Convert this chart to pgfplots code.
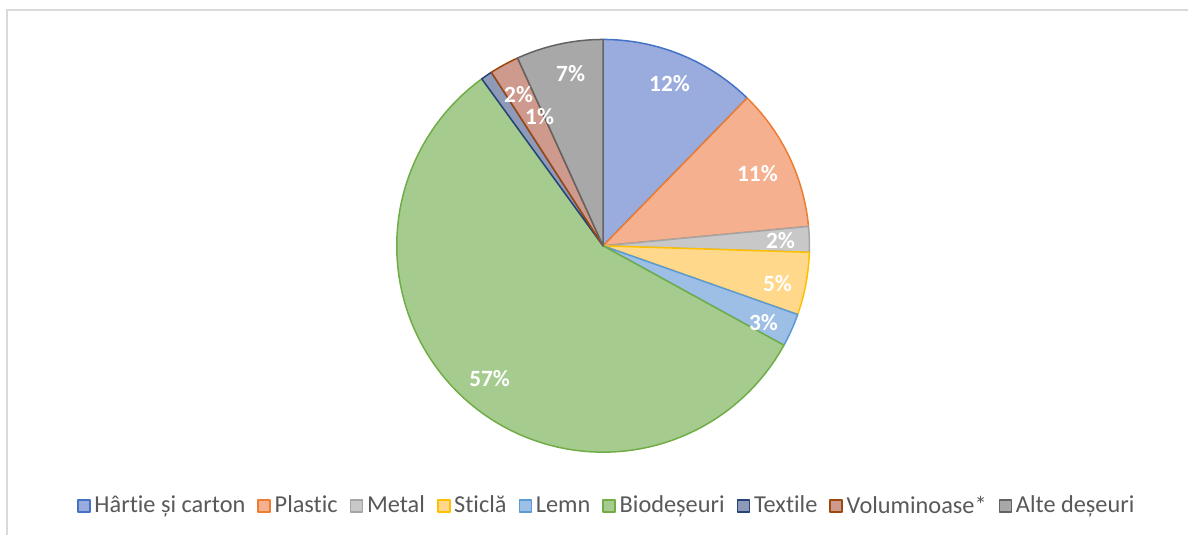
\documentclass[border=0pt]{standalone}
\usepackage{fontspec}
\setmainfont{Carlito}[Ligatures=CommonOff]
\usepackage{pgfplots}
\pgfplotsset{compat=1.18}
\definecolor{f1}{HTML}{9AACDD}\definecolor{e1}{HTML}{4472C4}
\definecolor{f2}{HTML}{F5B08F}\definecolor{e2}{HTML}{ED7D31}
\definecolor{f3}{HTML}{C8C8C8}\definecolor{e3}{HTML}{A5A5A5}
\definecolor{f4}{HTML}{FFD88C}\definecolor{e4}{HTML}{FFC000}
\definecolor{f5}{HTML}{9DBFE6}\definecolor{e5}{HTML}{5B9BD5}
\definecolor{f6}{HTML}{A5CC8E}\definecolor{e6}{HTML}{70AD47}
\definecolor{f7}{HTML}{8E9AB8}\definecolor{e7}{HTML}{264478}
\definecolor{f8}{HTML}{CD9A8D}\definecolor{e8}{HTML}{9E480E}
\definecolor{f9}{HTML}{A8A8A8}\definecolor{e9}{HTML}{636363}
\definecolor{txt}{HTML}{595959}
\definecolor{frame}{HTML}{D9D9D9}
% slice from cumulative share #1 to #2 (percent), fill #3, edge #4
\newcommand{\slice}[4]{%
  \addplot[fill=#3, draw=#4, line width=0.9pt, line join=round, domain=#1*3.6:#2*3.6, samples=90, variable=\t]
    ({603.5+206.5*sin(\t)},{289+206.5*cos(\t)}) -- (axis cs:603.5,289) -- cycle;}
\newcommand{\lbl}[3]{\node[white, font=\fontsize{14}{16}\selectfont\bfseries] at (axis cs:#1,#2) {#3};}
\begin{document}
\begin{tikzpicture}
\begin{axis}[
  scale only axis, width=713.4pt, height=321pt,
  xmin=0, xmax=1189, ymin=0, ymax=535, hide axis, clip=false,
  legend style={draw=none, at={(0.5114,0.054)}, anchor=center, legend columns=-1,
    font=\fontsize{14.6}{16}\selectfont\color{txt}, inner sep=0pt,
    /tikz/every even column/.append style={column sep=5pt},
    nodes={inner sep=2.2pt}},
  legend image code/.code={\draw[#1, line width=1pt] (0pt,-3.6pt) rectangle (7.2pt,3.6pt);},
]
% shares (percent): 12.3 11.2 2.0 4.9 2.6 57.0 0.9 2.3 6.8
\slice{0}{12.3}{f1}{e1}
\addlegendentry{Hârtie și carton}
\slice{12.3}{23.5}{f2}{e2}
\addlegendentry{Plastic}
\slice{23.5}{25.5}{f3}{e3}
\addlegendentry{Metal}
\slice{25.5}{30.4}{f4}{e4}
\addlegendentry{Sticlă}
\slice{30.4}{33.0}{f5}{e5}
\addlegendentry{Lemn}
\slice{33.0}{90.0}{f6}{e6}
\addlegendentry{Biodeșeuri}
\slice{90.0}{90.9}{f7}{e7}
\addlegendentry{Textile}
\slice{90.9}{93.2}{f8}{e8}
\addlegendentry{Voluminoase*}
\slice{93.2}{100}{f9}{e9}
\addlegendentry{Alte deșeuri}
\lbl{670}{451}{12\%}
\lbl{758}{361}{11\%}
\lbl{781}{294}{2\%}
\lbl{778}{251}{5\%}
\lbl{764}{212}{3\%}
\lbl{490}{156}{57\%}
\lbl{519}{440}{2\%}
\lbl{540}{418}{1\%}
\lbl{571}{461}{7\%}
\draw[frame, line width=1pt] (axis cs:7,0) -- (axis cs:7,525) -- (axis cs:1189,525);
\path (axis cs:0,0) rectangle (axis cs:1189,535);
\end{axis}
\end{tikzpicture}
\end{document}
